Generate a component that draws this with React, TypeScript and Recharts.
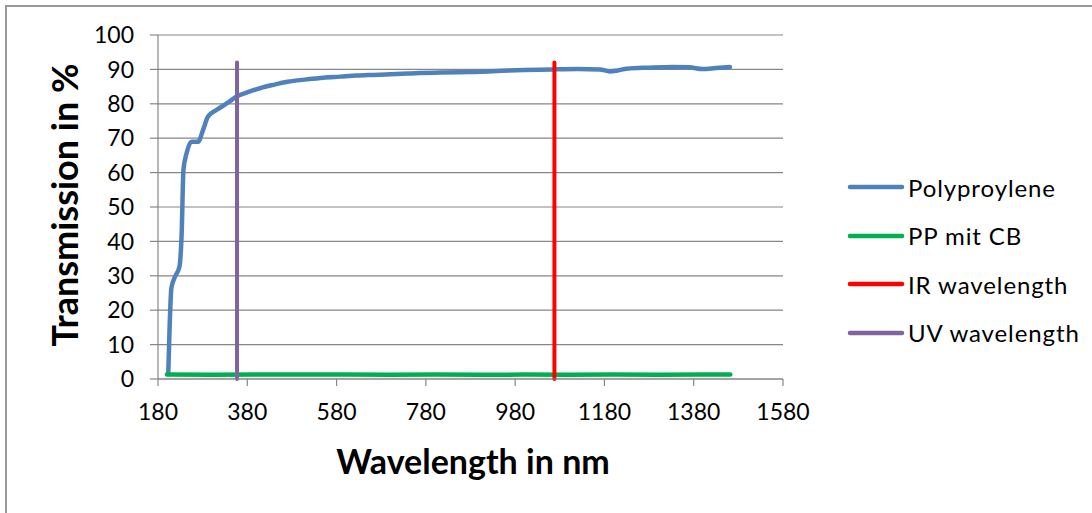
import React from 'react';
import { LineChart, Line, XAxis, YAxis, CartesianGrid, Label } from 'recharts';

// Polypropylene transmission spectrum
const ppWavelengths = [203, 206, 210, 218, 228, 233, 237, 244, 255, 270, 281, 292, 311, 334, 356, 386, 410, 438, 470, 513, 550, 588, 625, 662, 700, 740, 812, 860, 901, 950, 1000, 1065, 1120, 1170, 1192, 1210, 1230, 1280, 1333, 1370, 1400, 1430, 1461];
const ppValues = [1.7, 15, 26.5, 29.7, 32.6, 42.4, 60.8, 65.6, 69, 69, 72.4, 76.3, 78.2, 80.1, 82.1, 83.6, 84.6, 85.5, 86.4, 87.1, 87.6, 87.9, 88.2, 88.4, 88.6, 88.8, 89.1, 89.2, 89.3, 89.6, 89.8, 90.0, 90.1, 90.0, 89.4, 89.7, 90.2, 90.5, 90.7, 90.6, 90.1, 90.4, 90.7];

// PP with carbon black
const cbWavelengths = [200, 300, 400, 500, 600, 700, 800, 900, 1000, 1100, 1200, 1300, 1400, 1462];
const cbValues = [1.3, 1.2, 1.3, 1.3, 1.3, 1.2, 1.3, 1.2, 1.3, 1.2, 1.3, 1.2, 1.3, 1.3];

// laser wavelength markers
const irWavelength = 1068;
const uvWavelength = 357;
const markerRange = [0, 92];

const xTicks = [180, 380, 580, 780, 980, 1180, 1380, 1580];
const yTicks = [0, 10, 20, 30, 40, 50, 60, 70, 80, 90, 100];

const seriesNames = ['Polyproylene', 'PP mit CB', 'IR wavelength', 'UV wavelength'];
const seriesColors = ['#4F81BD', '#00B050', '#FF0000', '#8064A2'];

const ppData = ppWavelengths.map((wl, i) => ({ wl, v: ppValues[i] }));
const cbData = cbWavelengths.map((wl, i) => ({ wl, v: cbValues[i] }));
const irData = markerRange.map((v) => ({ wl: irWavelength, v }));
const uvData = markerRange.map((v) => ({ wl: uvWavelength, v }));

const FONT = 'Lato, "Open Sans", sans-serif';
const GRID = '#868686';

const LegendBox = () => (
  <div style={{ position: 'absolute', left: 846, top: 163, fontFamily: FONT, fontSize: 24, letterSpacing: 0.9, color: '#000' }}>
    {seriesNames.map((name, i) => (
      <div key={name} style={{ display: 'flex', alignItems: 'center', height: 48.5 }}>
        <svg width={62} height={10}>
          <line x1={4} y1={5} x2={56} y2={5} stroke={seriesColors[i]} strokeWidth={4.5} strokeLinecap="round" />
        </svg>
        <span>{name}</span>
      </div>
    ))}
  </div>
);

const App = () => {
  return (
    <div style={{ position: 'absolute', left: 0, top: 0, width: 1092, height: 513, overflow: 'hidden', background: '#fff' }}>
      <div style={{ position: 'absolute', left: 5, top: 5, width: 1200, height: 600, borderLeft: '2px solid #999', borderTop: '2px solid #999' }} />
      <LineChart
        width={1092}
        height={513}
        margin={{ top: 35, right: 309, bottom: 94, left: 98 }}
        style={{ position: 'absolute', left: 0, top: 0 }}
      >
        <CartesianGrid vertical={false} stroke={GRID} strokeWidth={1.2} />
        <XAxis
          type="number"
          dataKey="wl"
          domain={[180, 1580]}
          ticks={xTicks}
          interval={0}
          allowDataOverflow
          stroke={GRID}
          strokeWidth={1.2}
          tickSize={7}
          tickMargin={18}
          height={40}
          tick={{ fill: '#000', fontSize: 23, fontFamily: FONT }}
        >
          <Label
            content={() => (
              <text x={473} y={474} textAnchor="middle" fontFamily={FONT} fontWeight="bold" fontSize={34} fill="#000">
                Wavelength in nm
              </text>
            )}
          />
        </XAxis>
        <YAxis
          type="number"
          domain={[0, 100]}
          ticks={yTicks}
          interval={0}
          width={60}
          stroke={GRID}
          strokeWidth={1.2}
          tickSize={8}
          tickMargin={16}
          tick={{ fill: '#000', fontSize: 23, fontFamily: FONT }}
        >
          <Label
            content={() => (
              <text
                x={64}
                y={205}
                transform="rotate(-90 64 205)"
                textAnchor="middle"
                dominantBaseline="central"
                fontFamily={FONT}
                fontWeight="bold"
                fontSize={36}
                fill="#000"
              >
                Transmission in %
              </text>
            )}
          />
        </YAxis>
        <Line data={ppData} dataKey="v" name={seriesNames[0]} stroke={seriesColors[0]} strokeWidth={4.5} strokeLinecap="round" strokeLinejoin="round" dot={false} type="monotone" isAnimationActive={false} />
        <Line data={cbData} dataKey="v" name={seriesNames[1]} stroke={seriesColors[1]} strokeWidth={4.5} strokeLinecap="round" dot={false} type="linear" isAnimationActive={false} />
        <Line data={irData} dataKey="v" name={seriesNames[2]} stroke={seriesColors[2]} strokeWidth={4} strokeLinecap="round" dot={false} type="linear" isAnimationActive={false} />
        <Line data={uvData} dataKey="v" name={seriesNames[3]} stroke={seriesColors[3]} strokeWidth={4} strokeLinecap="round" dot={false} type="linear" isAnimationActive={false} />
      </LineChart>
      <LegendBox />
    </div>
  );
};

export default App;
